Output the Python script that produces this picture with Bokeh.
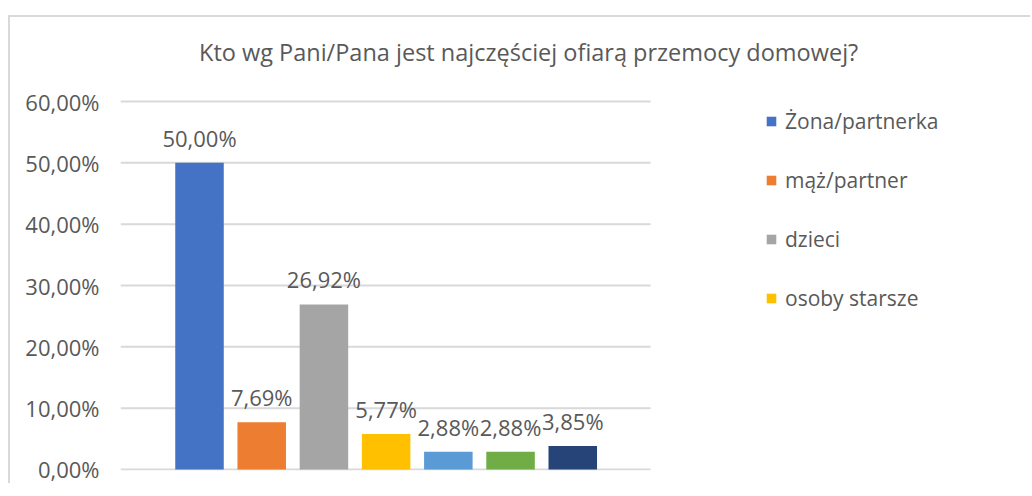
from bokeh.plotting import figure
from bokeh.models import (ColumnDataSource, FixedTicker, CustomJSTickFormatter, Legend,
                          LegendItem, Label, Range1d)
from bokeh.embed import file_html
from bokeh.resources import INLINE
from bokeh.core.properties import value

# ---- data ----
title_text = "Kto wg Pani/Pana jest najczęściej ofiarą przemocy domowej?"
values = [50.00, 7.69, 26.92, 5.77, 2.88, 2.88, 3.85]
colors = ["#4472C4", "#ED7D31", "#A5A5A5", "#FFC000", "#5B9BD5", "#70AD47", "#264478"]
legend_labels = ["Żona/partnerka", "mąż/partner", "dzieci", "osoby starsze"]
y_ticks = [0, 10, 20, 30, 40, 50, 60]
positions = [1, 2, 3, 4, 5, 6, 7]

FONT = "Open Sans"
TXT = "#595959"
GRID = "#D9D9D9"

X0 = -0.27          # left edge of the plot area (category units)
X_PLOT_END = 8.25   # right edge of the plot area / gridlines

labels = [f"{v:.2f}".replace(".", ",") + "%" for v in values]
src = ColumnDataSource(dict(pos=positions, val=values, color=colors, label=labels))
grid_src = ColumnDataSource(dict(y=y_ticks, x0=[X0] * len(y_ticks),
                                 x1=[X_PLOT_END] * len(y_ticks)))

p = figure(width=1022, height=468, output_backend="svg", toolbar_location=None,
           x_range=Range1d(X0, 14.39), y_range=Range1d(-0.163, 73.37),
           min_border_left=110, min_border_top=2, min_border_right=0,
           min_border_bottom=15,
           styles={"position": "relative", "top": "15px", "left": "8px",
                   "border-left": "2px solid #D9D9D9",
                   "border-top": "2px solid #D9D9D9"})
p.outline_line_color = None
p.background_fill_color = "white"
p.border_fill_color = "white"
p.xgrid.grid_line_color = None
p.ygrid.grid_line_color = None

p.segment(x0="x0", x1="x1", y0="y", y1="y", source=grid_src, line_color=GRID, line_width=2)

bars = p.vbar(x="pos", top="val", width=0.78, bottom=0, fill_color="color",
              line_color=None, source=src)

p.text(x="pos", y="val", text="label", source=src, y_offset=-25,
       text_align="center", text_baseline="middle", text_font=value(FONT),
       text_font_size="22px", text_color=TXT)

p.xaxis.visible = False

ya = p.yaxis[0]
ya.ticker = FixedTicker(ticks=y_ticks)
ya.formatter = CustomJSTickFormatter(code="return tick.toFixed(2).replace('.', ',') + '%';")
ya.axis_line_color = None
ya.major_tick_line_color = None
ya.minor_tick_line_color = None
ya.major_tick_out = 0
ya.major_tick_in = 0
ya.major_label_standoff = 21
ya.major_label_text_font = FONT
ya.major_label_text_font_size = "22px"
ya.major_label_text_color = TXT

title = Label(x=6.29, y=68, text=title_text, text_align="center", text_baseline="middle",
              text_font=FONT, text_font_size="23.5px", text_color=TXT)
p.add_layout(title)

items = [LegendItem(label=lab, renderers=[bars], index=i) for i, lab in enumerate(legend_labels)]
legend = Legend(items=items, location=(645, 157), orientation="vertical",
                glyph_width=12, glyph_height=12, label_height=30, spacing=29,
                padding=0, margin=0, border_line_color=None, background_fill_alpha=0,
                label_text_font=FONT, label_text_font_size="21px", label_text_color=TXT,
                label_standoff=8)
p.add_layout(legend)

open("out.html", "w").write(file_html(p, INLINE))
